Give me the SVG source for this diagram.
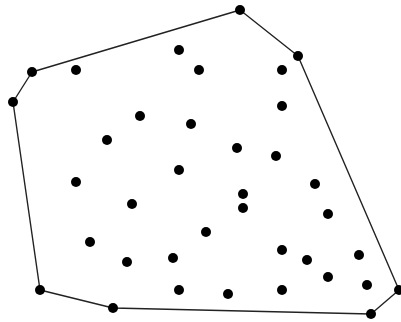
<svg xmlns="http://www.w3.org/2000/svg" width="401" height="322" viewBox="0 0 401 322">
<style>
.hull{fill:none;stroke:#222;stroke-width:1.4;stroke-linejoin:round}
.pt{fill:#000}
</style>
<rect width="401" height="322" fill="#fff"/>
<g id="connectors">
<polygon class="hull" points="240,10 298,56 399,290 371,314 113,308 40,290 13,102 32,72"/>
</g>
<g id="points">
<circle id="p1" class="pt" cx="240" cy="10" r="5"/>
<circle id="p2" class="pt" cx="298" cy="56" r="5"/>
<circle id="p3" class="pt" cx="399" cy="290" r="5"/>
<circle id="p4" class="pt" cx="371" cy="314" r="5"/>
<circle id="p5" class="pt" cx="113" cy="308" r="5"/>
<circle id="p6" class="pt" cx="40" cy="290" r="5"/>
<circle id="p7" class="pt" cx="13" cy="102" r="5"/>
<circle id="p8" class="pt" cx="32" cy="72" r="5"/>
<circle id="p9" class="pt" cx="76" cy="70" r="5"/>
<circle id="p10" class="pt" cx="179" cy="50" r="5"/>
<circle id="p11" class="pt" cx="199" cy="70" r="5"/>
<circle id="p12" class="pt" cx="140" cy="116" r="5"/>
<circle id="p13" class="pt" cx="191" cy="124" r="5"/>
<circle id="p14" class="pt" cx="107" cy="140" r="5"/>
<circle id="p15" class="pt" cx="282" cy="70" r="5"/>
<circle id="p16" class="pt" cx="282" cy="106" r="5"/>
<circle id="p17" class="pt" cx="237" cy="148" r="5"/>
<circle id="p18" class="pt" cx="276" cy="156" r="5"/>
<circle id="p19" class="pt" cx="76" cy="182" r="5"/>
<circle id="p20" class="pt" cx="179" cy="170" r="5"/>
<circle id="p21" class="pt" cx="132" cy="204" r="5"/>
<circle id="p22" class="pt" cx="90" cy="242" r="5"/>
<circle id="p23" class="pt" cx="127" cy="262" r="5"/>
<circle id="p24" class="pt" cx="173" cy="258" r="5"/>
<circle id="p25" class="pt" cx="179" cy="290" r="5"/>
<circle id="p26" class="pt" cx="243" cy="194" r="5"/>
<circle id="p27" class="pt" cx="243" cy="208" r="5"/>
<circle id="p28" class="pt" cx="315" cy="184" r="5"/>
<circle id="p29" class="pt" cx="328" cy="214" r="5"/>
<circle id="p30" class="pt" cx="206" cy="232" r="5"/>
<circle id="p31" class="pt" cx="282" cy="250" r="5"/>
<circle id="p32" class="pt" cx="307" cy="260" r="5"/>
<circle id="p33" class="pt" cx="359" cy="255" r="5"/>
<circle id="p34" class="pt" cx="328" cy="277" r="5"/>
<circle id="p35" class="pt" cx="367" cy="285" r="5"/>
<circle id="p36" class="pt" cx="228" cy="294" r="5"/>
<circle id="p37" class="pt" cx="282" cy="290" r="5"/>
</g>
</svg>
